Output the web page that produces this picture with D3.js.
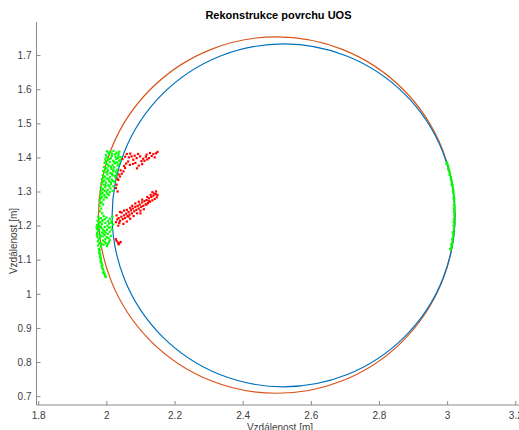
<!DOCTYPE html>
<html>
<head>
<meta charset="utf-8">
<script src="https://cdn.jsdelivr.net/npm/d3@7"></script>
<style>
    body { margin: 0; background: #fff; }
    text { font-family: "Liberation Sans", Arial, sans-serif; }
</style>
</head>
<body>
<div class="chart"></div>
<script>
// axis ticks
const xTicks = [1.8, 2, 2.2, 2.4, 2.6, 2.8, 3, 3.2];
const yTicks = [0.7, 0.8, 0.9, 1, 1.1, 1.2, 1.3, 1.4, 1.5, 1.6, 1.7];

// fitted circles (centre x, centre y, radius)
const circleCx = [2.500, 2.520];
const circleCy = [1.231, 1.230];
const circleR = [0.523, 0.503];

// measured points - green (surface), left side
const greenLeft = [
    [2.002, 1.418], [2.012, 1.416], [2.021, 1.419], [2.030, 1.414], [2.038, 1.417],
    [1.999, 1.407], [2.008, 1.410], [2.016, 1.404], [2.026, 1.409], [2.035, 1.405], [2.041, 1.401],
    [1.997, 1.396], [2.004, 1.392], [2.013, 1.398], [2.020, 1.390], [2.029, 1.395], [2.038, 1.389],
    [1.995, 1.384], [2.002, 1.380], [2.010, 1.386], [2.018, 1.378], [2.025, 1.383], [2.033, 1.376],
    [1.993, 1.372], [2.000, 1.368], [2.007, 1.374], [2.015, 1.366], [2.023, 1.371], [2.032, 1.364],
    [1.991, 1.360], [1.998, 1.356], [2.005, 1.362], [2.012, 1.354], [2.020, 1.359], [2.030, 1.351],
    [1.989, 1.348], [1.996, 1.344], [2.003, 1.350], [2.010, 1.342], [2.018, 1.347], [2.027, 1.340],
    [1.987, 1.336], [1.994, 1.332], [2.001, 1.338], [2.008, 1.330], [2.016, 1.335], [2.024, 1.328],
    [1.986, 1.324], [1.992, 1.320], [1.999, 1.326], [2.006, 1.318], [2.014, 1.322], [2.021, 1.315],
    [1.984, 1.312], [1.990, 1.308], [1.997, 1.313], [2.004, 1.305], [2.012, 1.309], [2.018, 1.302],
    [1.983, 1.300], [1.989, 1.296], [1.995, 1.302], [2.003, 1.293], [2.010, 1.298],
    [1.982, 1.288], [1.988, 1.284], [1.994, 1.290], [2.001, 1.282],
    [1.981, 1.274], [1.986, 1.268], [1.992, 1.276],
    [1.980, 1.258], [1.985, 1.250], [1.981, 1.242], [1.988, 1.236],
    [2.006, 1.414], [2.017, 1.411], [2.027, 1.402], [2.034, 1.398], [2.001, 1.401],
    [2.009, 1.395], [2.023, 1.387], [2.031, 1.385], [1.998, 1.389], [2.006, 1.377],
    [2.014, 1.372], [2.021, 1.364], [1.996, 1.365], [2.003, 1.357], [2.017, 1.351],
    [2.025, 1.346], [1.992, 1.341], [2.006, 1.336], [2.013, 1.327], [2.020, 1.331],
    [1.990, 1.329], [1.997, 1.319], [2.009, 1.315], [1.988, 1.305], [2.000, 1.299],
    [2.007, 1.290], [1.985, 1.294], [1.997, 1.284], [1.984, 1.280], [1.990, 1.262],
    [1.983, 1.266], [2.036, 1.411], [2.041, 1.393], [2.037, 1.380], [2.028, 1.358],
    [1.976, 1.226], [1.984, 1.222], [1.992, 1.228], [2.000, 1.224], [2.010, 1.220], [2.018, 1.226],
    [1.974, 1.214], [1.981, 1.210], [1.989, 1.216], [1.997, 1.208], [2.005, 1.213], [2.014, 1.209],
    [1.973, 1.202], [1.980, 1.198], [1.987, 1.204], [1.995, 1.196], [2.003, 1.200], [2.012, 1.195],
    [1.973, 1.190], [1.979, 1.186], [1.986, 1.192], [1.994, 1.184], [2.002, 1.188], [2.010, 1.182],
    [1.973, 1.178], [1.980, 1.174], [1.987, 1.180], [1.995, 1.172], [2.004, 1.176], [2.013, 1.170],
    [1.974, 1.166], [1.981, 1.162], [1.989, 1.168], [1.997, 1.160], [2.006, 1.164],
    [1.975, 1.154], [1.982, 1.150], [1.990, 1.156], [1.999, 1.148], [2.008, 1.152],
    [1.976, 1.142], [1.984, 1.138], [1.992, 1.144], [2.002, 1.140],
    [1.978, 1.220], [1.988, 1.212], [1.995, 1.219], [2.008, 1.206], [2.016, 1.214],
    [1.977, 1.206], [1.984, 1.196], [1.991, 1.188], [1.998, 1.180], [2.007, 1.194],
    [1.976, 1.184], [1.983, 1.170], [1.992, 1.176], [2.001, 1.166], [2.010, 1.158],
    [1.978, 1.160], [1.986, 1.146], [1.995, 1.152], [2.004, 1.146], [1.979, 1.148],
    [2.020, 1.203], [2.016, 1.188], [1.976, 1.196], [1.971, 1.195], [1.972, 1.172],
    [1.978, 1.132], [1.980, 1.126], [1.979, 1.120], [1.982, 1.114], [1.981, 1.108],
    [1.984, 1.102], [1.983, 1.096], [1.986, 1.090], [1.988, 1.084], [1.987, 1.078],
    [1.990, 1.072], [1.992, 1.066], [1.994, 1.060], [1.996, 1.054], [1.998, 1.049],
    [1.980, 1.130], [1.981, 1.118], [1.983, 1.106], [1.985, 1.094], [1.987, 1.082],
    [1.989, 1.074], [1.991, 1.062], [1.995, 1.057], [1.997, 1.052]
];

// measured points - green, right side
const greenRight = [
    [3.000, 1.385], [3.002, 1.378], [3.004, 1.370], [3.006, 1.362], [3.008, 1.355],
    [3.009, 1.349], [3.011, 1.342], [3.013, 1.333], [3.014, 1.326], [3.016, 1.318],
    [3.017, 1.310], [3.018, 1.302], [3.019, 1.294], [3.020, 1.286], [3.021, 1.278],
    [3.021, 1.270], [3.022, 1.262], [3.022, 1.254], [3.021, 1.246], [3.022, 1.238],
    [3.021, 1.230], [3.022, 1.222], [3.021, 1.214], [3.021, 1.206], [3.020, 1.198],
    [3.020, 1.190], [3.019, 1.182], [3.018, 1.174], [3.017, 1.166], [3.016, 1.158],
    [3.015, 1.150], [3.014, 1.143], [3.012, 1.136], [3.011, 1.130],
    [3.018, 1.300], [3.020, 1.250], [3.019, 1.210], [3.017, 1.180], [3.013, 1.320],
    [2.998, 1.382], [3.003, 1.365], [3.007, 1.350], [3.011, 1.336], [3.015, 1.320],
    [3.017, 1.300], [3.019, 1.280], [3.020, 1.260], [3.020, 1.240], [3.020, 1.220],
    [3.019, 1.200], [3.017, 1.180], [3.015, 1.160], [3.012, 1.145], [3.009, 1.132]
];

// measured points - red (outliers)
const redPoints = [
    [2.060, 1.410], [2.074, 1.403], [2.079, 1.393], [2.089, 1.398], [2.099, 1.403],
    [2.108, 1.396], [2.118, 1.408], [2.128, 1.413], [2.138, 1.410], [2.146, 1.412],
    [2.064, 1.388], [2.069, 1.378], [2.055, 1.369], [2.050, 1.359], [2.040, 1.344],
    [2.035, 1.334], [2.030, 1.320], [2.028, 1.310], [2.045, 1.352], [2.058, 1.382],
    [2.066, 1.400], [2.085, 1.384], [2.095, 1.376], [2.112, 1.390], [2.125, 1.398],
    [2.052, 1.375], [2.042, 1.362], [2.036, 1.350], [2.032, 1.338], [2.047, 1.395],
    [2.055, 1.402], [2.033, 1.300],
    [2.083, 1.405], [2.093, 1.410], [2.103, 1.389], [2.116, 1.402], [2.133, 1.404],
    [2.142, 1.400], [2.150, 1.416], [2.070, 1.411], [2.078, 1.381], [2.090, 1.368],
    [2.105, 1.380], [2.120, 1.394],
    [2.028, 1.210], [2.032, 1.218], [2.036, 1.222], [2.040, 1.214], [2.044, 1.226],
    [2.048, 1.219], [2.052, 1.230], [2.055, 1.222], [2.058, 1.235], [2.062, 1.228],
    [2.065, 1.240], [2.068, 1.232], [2.072, 1.245], [2.075, 1.236], [2.078, 1.250],
    [2.082, 1.242], [2.085, 1.255], [2.088, 1.246], [2.092, 1.258], [2.095, 1.250],
    [2.098, 1.262], [2.102, 1.255], [2.105, 1.268], [2.108, 1.258], [2.112, 1.272],
    [2.115, 1.262], [2.118, 1.275], [2.122, 1.266], [2.125, 1.280], [2.128, 1.270],
    [2.132, 1.284], [2.135, 1.274], [2.138, 1.288], [2.142, 1.278], [2.145, 1.292],
    [2.148, 1.283], [2.140, 1.294], [2.130, 1.290], [2.120, 1.284], [2.060, 1.212],
    [2.070, 1.220], [2.080, 1.228], [2.050, 1.205], [2.090, 1.236], [2.100, 1.244],
    [2.035, 1.200], [2.030, 1.230], [2.045, 1.238],
    [2.060, 1.246], [2.070, 1.252], [2.085, 1.265], [2.095, 1.270], [2.105, 1.276],
    [2.110, 1.248], [2.100, 1.236], [2.118, 1.262], [2.135, 1.298], [2.146, 1.300],
    [2.150, 1.290], [2.040, 1.240], [2.052, 1.244], [2.065, 1.226], [2.038, 1.208],
    [2.076, 1.258], [2.125, 1.272],
    [2.030, 1.155], [2.034, 1.150], [2.038, 1.148], [2.042, 1.152], [2.036, 1.145], [2.028, 1.160]
];

const width = 519;
const height = 430;
const plot = { left: 36.5, right: 520.4, top: 22, bottom: 405 };

const svg = d3.select(".chart")
    .append("svg")
    .attr("width", width)
    .attr("height", height);

const x = d3.scaleLinear()
    .domain([1.795, 3.215])
    .range([plot.left, plot.right]);

const y = d3.scaleLinear()
    .domain([0.674, 1.797])
    .range([plot.bottom, plot.top]);

// title
svg.append("text")
    .attr("x", (plot.left + plot.right) / 2)
    .attr("y", 19)
    .attr("text-anchor", "middle")
    .style("font-size", "11px")
    .style("font-weight", "bold")
    .style("fill", "#000")
    .text("Rekonstrukce povrchu UOS");

// circles
const circleColors = ["#D95319", "#0072BD"];
svg.append("g")
    .selectAll("circle")
    .data(circleCx.map((c, i) => ({ cx: c, cy: circleCy[i], r: circleR[i], color: circleColors[i] })))
    .enter()
    .append("circle")
    .attr("cx", d => x(d.cx))
    .attr("cy", d => y(d.cy))
    .attr("r", d => x(d.cx + d.r) - x(d.cx))
    .attr("fill", "none")
    .attr("stroke", d => d.color)
    .attr("stroke-width", 1.2);

// points
const drawPoints = (pts, color) => {
    svg.append("g")
        .selectAll("rect")
        .data(pts)
        .enter()
        .append("rect")
        .attr("x", d => x(d[0]) - 1.1)
        .attr("y", d => y(d[1]) - 1.1)
        .attr("width", 2.2)
        .attr("height", 2.2)
        .style("fill", color);
};
drawPoints(redPoints, "#FF0000");
drawPoints(greenLeft, "#00FF00");
drawPoints(greenRight, "#00FF00");

// axes
const xAxis = svg.append("g")
    .attr("transform", "translate(0," + plot.bottom + ")")
    .call(d3.axisBottom(x).tickValues(xTicks).tickSize(-4).tickPadding(7).tickFormat(d3.format("")));
const yAxis = svg.append("g")
    .attr("transform", "translate(" + plot.left + ",0)")
    .call(d3.axisLeft(y).tickValues(yTicks).tickSize(-4).tickPadding(5).tickFormat(d3.format("")));

[xAxis, yAxis].forEach(a => {
    a.select(".domain").attr("stroke", "#8a8a8a");
    a.selectAll(".tick line").attr("stroke", "#8a8a8a");
    a.selectAll(".tick text")
        .style("font-size", "10px")
        .style("fill", "#404040")
        .style("font-family", "'Liberation Sans', Arial, sans-serif");
});
xAxis.select(".domain").attr("d", "M" + plot.left + ",0H" + plot.right);
yAxis.select(".domain").attr("d", "M0," + plot.bottom + "V" + plot.top);

// axis labels
svg.append("text")
    .attr("x", 280)
    .attr("y", 431)
    .attr("text-anchor", "middle")
    .style("font-size", "10px")
    .style("fill", "#404040")
    .text("Vzdálenost [m]");

svg.append("text")
    .attr("transform", "translate(17,241) rotate(-90)")
    .attr("text-anchor", "middle")
    .style("font-size", "10px")
    .style("fill", "#404040")
    .text("Vzdálenost [m]");
</script>
</body>
</html>
